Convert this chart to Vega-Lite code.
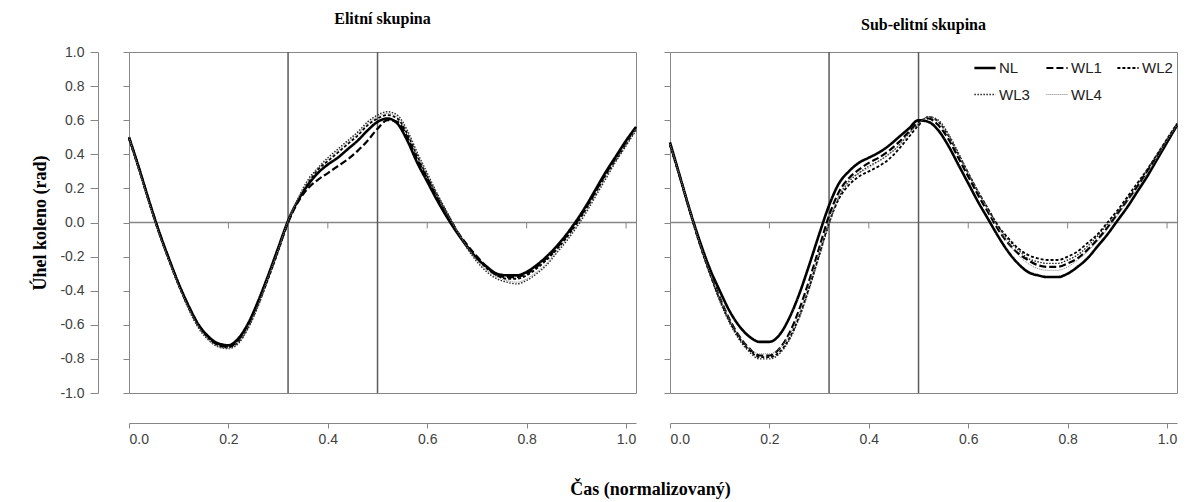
{
"$schema": "https://vega.github.io/schema/vega-lite/v6.json",
"padding": {"left": 31, "top": 10, "right": 6, "bottom": 5},
"background": "white",
"bounds": "flush",
"spacing": 34,
"datasets": {"curves": [
{"p":"E","s":"NL","x":0,"y":0.50},{"p":"E","s":"NL","x":0.02,"y":0.32},{"p":"E","s":"NL","x":0.04,"y":0.13},{"p":"E","s":"NL","x":0.06,"y":-0.05},{"p":"E","s":"NL","x":0.08,"y":-0.21},{"p":"E","s":"NL","x":0.1,"y":-0.36},{"p":"E","s":"NL","x":0.12,"y":-0.49},{"p":"E","s":"NL","x":0.14,"y":-0.60},{"p":"E","s":"NL","x":0.16,"y":-0.67},{"p":"E","s":"NL","x":0.18,"y":-0.71},
{"p":"E","s":"NL","x":0.2,"y":-0.72},{"p":"E","s":"NL","x":0.22,"y":-0.68},{"p":"E","s":"NL","x":0.24,"y":-0.59},{"p":"E","s":"NL","x":0.26,"y":-0.46},{"p":"E","s":"NL","x":0.28,"y":-0.31},{"p":"E","s":"NL","x":0.3,"y":-0.15},{"p":"E","s":"NL","x":0.32,"y":0.01},{"p":"E","s":"NL","x":0.34,"y":0.13},{"p":"E","s":"NL","x":0.36,"y":0.22},{"p":"E","s":"NL","x":0.38,"y":0.29},
{"p":"E","s":"NL","x":0.4,"y":0.34},{"p":"E","s":"NL","x":0.42,"y":0.38},{"p":"E","s":"NL","x":0.44,"y":0.43},{"p":"E","s":"NL","x":0.46,"y":0.48},{"p":"E","s":"NL","x":0.48,"y":0.54},{"p":"E","s":"NL","x":0.5,"y":0.59},{"p":"E","s":"NL","x":0.52,"y":0.61},{"p":"E","s":"NL","x":0.54,"y":0.58},{"p":"E","s":"NL","x":0.56,"y":0.48},{"p":"E","s":"NL","x":0.58,"y":0.35},
{"p":"E","s":"NL","x":0.6,"y":0.24},{"p":"E","s":"NL","x":0.62,"y":0.13},{"p":"E","s":"NL","x":0.64,"y":0.03},{"p":"E","s":"NL","x":0.66,"y":-0.06},{"p":"E","s":"NL","x":0.68,"y":-0.14},{"p":"E","s":"NL","x":0.7,"y":-0.21},{"p":"E","s":"NL","x":0.72,"y":-0.26},{"p":"E","s":"NL","x":0.74,"y":-0.30},{"p":"E","s":"NL","x":0.76,"y":-0.31},{"p":"E","s":"NL","x":0.78,"y":-0.31},
{"p":"E","s":"NL","x":0.8,"y":-0.29},{"p":"E","s":"NL","x":0.82,"y":-0.25},{"p":"E","s":"NL","x":0.84,"y":-0.20},{"p":"E","s":"NL","x":0.86,"y":-0.14},{"p":"E","s":"NL","x":0.88,"y":-0.07},{"p":"E","s":"NL","x":0.9,"y":0.01},{"p":"E","s":"NL","x":0.92,"y":0.10},{"p":"E","s":"NL","x":0.94,"y":0.20},{"p":"E","s":"NL","x":0.96,"y":0.30},{"p":"E","s":"NL","x":0.98,"y":0.39},
{"p":"E","s":"NL","x":1,"y":0.48},{"p":"E","s":"NL","x":1.02,"y":0.56},

{"p":"E","s":"WL1","x":0,"y":0.50},{"p":"E","s":"WL1","x":0.02,"y":0.32},{"p":"E","s":"WL1","x":0.04,"y":0.13},{"p":"E","s":"WL1","x":0.06,"y":-0.05},{"p":"E","s":"WL1","x":0.08,"y":-0.21},{"p":"E","s":"WL1","x":0.1,"y":-0.36},{"p":"E","s":"WL1","x":0.12,"y":-0.49},{"p":"E","s":"WL1","x":0.14,"y":-0.60},{"p":"E","s":"WL1","x":0.16,"y":-0.67},{"p":"E","s":"WL1","x":0.18,"y":-0.72},
{"p":"E","s":"WL1","x":0.2,"y":-0.73},{"p":"E","s":"WL1","x":0.22,"y":-0.69},{"p":"E","s":"WL1","x":0.24,"y":-0.60},{"p":"E","s":"WL1","x":0.26,"y":-0.47},{"p":"E","s":"WL1","x":0.28,"y":-0.32},{"p":"E","s":"WL1","x":0.3,"y":-0.16},{"p":"E","s":"WL1","x":0.32,"y":0.00},{"p":"E","s":"WL1","x":0.34,"y":0.12},{"p":"E","s":"WL1","x":0.36,"y":0.20},{"p":"E","s":"WL1","x":0.38,"y":0.25},
{"p":"E","s":"WL1","x":0.4,"y":0.29},{"p":"E","s":"WL1","x":0.42,"y":0.33},{"p":"E","s":"WL1","x":0.44,"y":0.37},{"p":"E","s":"WL1","x":0.46,"y":0.42},{"p":"E","s":"WL1","x":0.48,"y":0.48},{"p":"E","s":"WL1","x":0.5,"y":0.55},{"p":"E","s":"WL1","x":0.52,"y":0.60},{"p":"E","s":"WL1","x":0.54,"y":0.59},{"p":"E","s":"WL1","x":0.56,"y":0.50},{"p":"E","s":"WL1","x":0.58,"y":0.37},
{"p":"E","s":"WL1","x":0.6,"y":0.26},{"p":"E","s":"WL1","x":0.62,"y":0.15},{"p":"E","s":"WL1","x":0.64,"y":0.05},{"p":"E","s":"WL1","x":0.66,"y":-0.05},{"p":"E","s":"WL1","x":0.68,"y":-0.13},{"p":"E","s":"WL1","x":0.7,"y":-0.20},{"p":"E","s":"WL1","x":0.72,"y":-0.26},{"p":"E","s":"WL1","x":0.74,"y":-0.31},{"p":"E","s":"WL1","x":0.76,"y":-0.32},{"p":"E","s":"WL1","x":0.78,"y":-0.32},
{"p":"E","s":"WL1","x":0.8,"y":-0.30},{"p":"E","s":"WL1","x":0.82,"y":-0.26},{"p":"E","s":"WL1","x":0.84,"y":-0.21},{"p":"E","s":"WL1","x":0.86,"y":-0.15},{"p":"E","s":"WL1","x":0.88,"y":-0.08},{"p":"E","s":"WL1","x":0.9,"y":0.00},{"p":"E","s":"WL1","x":0.92,"y":0.09},{"p":"E","s":"WL1","x":0.94,"y":0.19},{"p":"E","s":"WL1","x":0.96,"y":0.29},{"p":"E","s":"WL1","x":0.98,"y":0.38},
{"p":"E","s":"WL1","x":1,"y":0.47},{"p":"E","s":"WL1","x":1.02,"y":0.56},

{"p":"E","s":"WL2","x":0,"y":0.49},{"p":"E","s":"WL2","x":0.02,"y":0.31},{"p":"E","s":"WL2","x":0.04,"y":0.12},{"p":"E","s":"WL2","x":0.06,"y":-0.06},{"p":"E","s":"WL2","x":0.08,"y":-0.22},{"p":"E","s":"WL2","x":0.1,"y":-0.37},{"p":"E","s":"WL2","x":0.12,"y":-0.50},{"p":"E","s":"WL2","x":0.14,"y":-0.61},{"p":"E","s":"WL2","x":0.16,"y":-0.68},{"p":"E","s":"WL2","x":0.18,"y":-0.72},
{"p":"E","s":"WL2","x":0.2,"y":-0.73},{"p":"E","s":"WL2","x":0.22,"y":-0.70},{"p":"E","s":"WL2","x":0.24,"y":-0.61},{"p":"E","s":"WL2","x":0.26,"y":-0.48},{"p":"E","s":"WL2","x":0.28,"y":-0.33},{"p":"E","s":"WL2","x":0.3,"y":-0.17},{"p":"E","s":"WL2","x":0.32,"y":0.00},{"p":"E","s":"WL2","x":0.34,"y":0.13},{"p":"E","s":"WL2","x":0.36,"y":0.23},{"p":"E","s":"WL2","x":0.38,"y":0.31},
{"p":"E","s":"WL2","x":0.4,"y":0.36},{"p":"E","s":"WL2","x":0.42,"y":0.41},{"p":"E","s":"WL2","x":0.44,"y":0.46},{"p":"E","s":"WL2","x":0.46,"y":0.51},{"p":"E","s":"WL2","x":0.48,"y":0.57},{"p":"E","s":"WL2","x":0.5,"y":0.61},{"p":"E","s":"WL2","x":0.52,"y":0.63},{"p":"E","s":"WL2","x":0.54,"y":0.61},{"p":"E","s":"WL2","x":0.56,"y":0.52},{"p":"E","s":"WL2","x":0.58,"y":0.39},
{"p":"E","s":"WL2","x":0.6,"y":0.27},{"p":"E","s":"WL2","x":0.62,"y":0.16},{"p":"E","s":"WL2","x":0.64,"y":0.05},{"p":"E","s":"WL2","x":0.66,"y":-0.05},{"p":"E","s":"WL2","x":0.68,"y":-0.14},{"p":"E","s":"WL2","x":0.7,"y":-0.21},{"p":"E","s":"WL2","x":0.72,"y":-0.27},{"p":"E","s":"WL2","x":0.74,"y":-0.31},{"p":"E","s":"WL2","x":0.76,"y":-0.33},{"p":"E","s":"WL2","x":0.78,"y":-0.33},
{"p":"E","s":"WL2","x":0.8,"y":-0.31},{"p":"E","s":"WL2","x":0.82,"y":-0.27},{"p":"E","s":"WL2","x":0.84,"y":-0.22},{"p":"E","s":"WL2","x":0.86,"y":-0.16},{"p":"E","s":"WL2","x":0.88,"y":-0.09},{"p":"E","s":"WL2","x":0.9,"y":-0.01},{"p":"E","s":"WL2","x":0.92,"y":0.08},{"p":"E","s":"WL2","x":0.94,"y":0.18},{"p":"E","s":"WL2","x":0.96,"y":0.28},{"p":"E","s":"WL2","x":0.98,"y":0.37},
{"p":"E","s":"WL2","x":1,"y":0.46},{"p":"E","s":"WL2","x":1.02,"y":0.55},

{"p":"E","s":"WL3","x":0,"y":0.49},{"p":"E","s":"WL3","x":0.02,"y":0.31},{"p":"E","s":"WL3","x":0.04,"y":0.12},{"p":"E","s":"WL3","x":0.06,"y":-0.06},{"p":"E","s":"WL3","x":0.08,"y":-0.22},{"p":"E","s":"WL3","x":0.1,"y":-0.37},{"p":"E","s":"WL3","x":0.12,"y":-0.51},{"p":"E","s":"WL3","x":0.14,"y":-0.62},{"p":"E","s":"WL3","x":0.16,"y":-0.69},{"p":"E","s":"WL3","x":0.18,"y":-0.73},
{"p":"E","s":"WL3","x":0.2,"y":-0.74},{"p":"E","s":"WL3","x":0.22,"y":-0.71},{"p":"E","s":"WL3","x":0.24,"y":-0.62},{"p":"E","s":"WL3","x":0.26,"y":-0.49},{"p":"E","s":"WL3","x":0.28,"y":-0.33},{"p":"E","s":"WL3","x":0.3,"y":-0.17},{"p":"E","s":"WL3","x":0.32,"y":0.00},{"p":"E","s":"WL3","x":0.34,"y":0.14},{"p":"E","s":"WL3","x":0.36,"y":0.25},{"p":"E","s":"WL3","x":0.38,"y":0.32},
{"p":"E","s":"WL3","x":0.4,"y":0.38},{"p":"E","s":"WL3","x":0.42,"y":0.43},{"p":"E","s":"WL3","x":0.44,"y":0.48},{"p":"E","s":"WL3","x":0.46,"y":0.53},{"p":"E","s":"WL3","x":0.48,"y":0.59},{"p":"E","s":"WL3","x":0.5,"y":0.63},{"p":"E","s":"WL3","x":0.52,"y":0.65},{"p":"E","s":"WL3","x":0.54,"y":0.63},{"p":"E","s":"WL3","x":0.56,"y":0.54},{"p":"E","s":"WL3","x":0.58,"y":0.41},
{"p":"E","s":"WL3","x":0.6,"y":0.29},{"p":"E","s":"WL3","x":0.62,"y":0.17},{"p":"E","s":"WL3","x":0.64,"y":0.06},{"p":"E","s":"WL3","x":0.66,"y":-0.05},{"p":"E","s":"WL3","x":0.68,"y":-0.15},{"p":"E","s":"WL3","x":0.7,"y":-0.23},{"p":"E","s":"WL3","x":0.72,"y":-0.29},{"p":"E","s":"WL3","x":0.74,"y":-0.33},{"p":"E","s":"WL3","x":0.76,"y":-0.35},{"p":"E","s":"WL3","x":0.78,"y":-0.36},
{"p":"E","s":"WL3","x":0.8,"y":-0.34},{"p":"E","s":"WL3","x":0.82,"y":-0.30},{"p":"E","s":"WL3","x":0.84,"y":-0.25},{"p":"E","s":"WL3","x":0.86,"y":-0.18},{"p":"E","s":"WL3","x":0.88,"y":-0.11},{"p":"E","s":"WL3","x":0.9,"y":-0.03},{"p":"E","s":"WL3","x":0.92,"y":0.06},{"p":"E","s":"WL3","x":0.94,"y":0.16},{"p":"E","s":"WL3","x":0.96,"y":0.26},{"p":"E","s":"WL3","x":0.98,"y":0.36},
{"p":"E","s":"WL3","x":1,"y":0.45},{"p":"E","s":"WL3","x":1.02,"y":0.54},

{"p":"E","s":"WL4","x":0,"y":0.50},{"p":"E","s":"WL4","x":0.02,"y":0.31},{"p":"E","s":"WL4","x":0.04,"y":0.12},{"p":"E","s":"WL4","x":0.06,"y":-0.06},{"p":"E","s":"WL4","x":0.08,"y":-0.22},{"p":"E","s":"WL4","x":0.1,"y":-0.37},{"p":"E","s":"WL4","x":0.12,"y":-0.50},{"p":"E","s":"WL4","x":0.14,"y":-0.61},{"p":"E","s":"WL4","x":0.16,"y":-0.69},{"p":"E","s":"WL4","x":0.18,"y":-0.73},
{"p":"E","s":"WL4","x":0.2,"y":-0.74},{"p":"E","s":"WL4","x":0.22,"y":-0.70},{"p":"E","s":"WL4","x":0.24,"y":-0.61},{"p":"E","s":"WL4","x":0.26,"y":-0.48},{"p":"E","s":"WL4","x":0.28,"y":-0.32},{"p":"E","s":"WL4","x":0.3,"y":-0.16},{"p":"E","s":"WL4","x":0.32,"y":0.01},{"p":"E","s":"WL4","x":0.34,"y":0.14},{"p":"E","s":"WL4","x":0.36,"y":0.24},{"p":"E","s":"WL4","x":0.38,"y":0.32},
{"p":"E","s":"WL4","x":0.4,"y":0.37},{"p":"E","s":"WL4","x":0.42,"y":0.42},{"p":"E","s":"WL4","x":0.44,"y":0.47},{"p":"E","s":"WL4","x":0.46,"y":0.52},{"p":"E","s":"WL4","x":0.48,"y":0.58},{"p":"E","s":"WL4","x":0.5,"y":0.62},{"p":"E","s":"WL4","x":0.52,"y":0.64},{"p":"E","s":"WL4","x":0.54,"y":0.62},{"p":"E","s":"WL4","x":0.56,"y":0.53},{"p":"E","s":"WL4","x":0.58,"y":0.40},
{"p":"E","s":"WL4","x":0.6,"y":0.28},{"p":"E","s":"WL4","x":0.62,"y":0.16},{"p":"E","s":"WL4","x":0.64,"y":0.05},{"p":"E","s":"WL4","x":0.66,"y":-0.05},{"p":"E","s":"WL4","x":0.68,"y":-0.14},{"p":"E","s":"WL4","x":0.7,"y":-0.22},{"p":"E","s":"WL4","x":0.72,"y":-0.28},{"p":"E","s":"WL4","x":0.74,"y":-0.32},{"p":"E","s":"WL4","x":0.76,"y":-0.34},{"p":"E","s":"WL4","x":0.78,"y":-0.35},
{"p":"E","s":"WL4","x":0.8,"y":-0.33},{"p":"E","s":"WL4","x":0.82,"y":-0.29},{"p":"E","s":"WL4","x":0.84,"y":-0.24},{"p":"E","s":"WL4","x":0.86,"y":-0.17},{"p":"E","s":"WL4","x":0.88,"y":-0.10},{"p":"E","s":"WL4","x":0.9,"y":-0.02},{"p":"E","s":"WL4","x":0.92,"y":0.07},{"p":"E","s":"WL4","x":0.94,"y":0.17},{"p":"E","s":"WL4","x":0.96,"y":0.27},{"p":"E","s":"WL4","x":0.98,"y":0.37},
{"p":"E","s":"WL4","x":1,"y":0.46},{"p":"E","s":"WL4","x":1.02,"y":0.55},

{"p":"S","s":"NL","x":0,"y":0.47},{"p":"S","s":"NL","x":0.02,"y":0.27},{"p":"S","s":"NL","x":0.04,"y":0.07},{"p":"S","s":"NL","x":0.06,"y":-0.11},{"p":"S","s":"NL","x":0.08,"y":-0.27},{"p":"S","s":"NL","x":0.1,"y":-0.40},{"p":"S","s":"NL","x":0.12,"y":-0.52},{"p":"S","s":"NL","x":0.14,"y":-0.61},{"p":"S","s":"NL","x":0.16,"y":-0.67},{"p":"S","s":"NL","x":0.18,"y":-0.70},
{"p":"S","s":"NL","x":0.2,"y":-0.70},{"p":"S","s":"NL","x":0.22,"y":-0.66},{"p":"S","s":"NL","x":0.24,"y":-0.56},{"p":"S","s":"NL","x":0.26,"y":-0.42},{"p":"S","s":"NL","x":0.28,"y":-0.25},{"p":"S","s":"NL","x":0.3,"y":-0.07},{"p":"S","s":"NL","x":0.32,"y":0.10},{"p":"S","s":"NL","x":0.34,"y":0.23},{"p":"S","s":"NL","x":0.36,"y":0.30},{"p":"S","s":"NL","x":0.38,"y":0.35},
{"p":"S","s":"NL","x":0.4,"y":0.38},{"p":"S","s":"NL","x":0.42,"y":0.41},{"p":"S","s":"NL","x":0.44,"y":0.45},{"p":"S","s":"NL","x":0.46,"y":0.50},{"p":"S","s":"NL","x":0.48,"y":0.55},{"p":"S","s":"NL","x":0.5,"y":0.60},{"p":"S","s":"NL","x":0.52,"y":0.59},{"p":"S","s":"NL","x":0.54,"y":0.54},{"p":"S","s":"NL","x":0.56,"y":0.45},{"p":"S","s":"NL","x":0.58,"y":0.34},
{"p":"S","s":"NL","x":0.6,"y":0.23},{"p":"S","s":"NL","x":0.62,"y":0.12},{"p":"S","s":"NL","x":0.64,"y":0.02},{"p":"S","s":"NL","x":0.66,"y":-0.08},{"p":"S","s":"NL","x":0.68,"y":-0.17},{"p":"S","s":"NL","x":0.7,"y":-0.24},{"p":"S","s":"NL","x":0.72,"y":-0.29},{"p":"S","s":"NL","x":0.74,"y":-0.31},{"p":"S","s":"NL","x":0.76,"y":-0.32},{"p":"S","s":"NL","x":0.78,"y":-0.32},
{"p":"S","s":"NL","x":0.8,"y":-0.30},{"p":"S","s":"NL","x":0.82,"y":-0.26},{"p":"S","s":"NL","x":0.84,"y":-0.21},{"p":"S","s":"NL","x":0.86,"y":-0.14},{"p":"S","s":"NL","x":0.88,"y":-0.07},{"p":"S","s":"NL","x":0.9,"y":0.01},{"p":"S","s":"NL","x":0.92,"y":0.09},{"p":"S","s":"NL","x":0.94,"y":0.18},{"p":"S","s":"NL","x":0.96,"y":0.27},{"p":"S","s":"NL","x":0.98,"y":0.37},
{"p":"S","s":"NL","x":1,"y":0.47},{"p":"S","s":"NL","x":1.02,"y":0.57},

{"p":"S","s":"WL1","x":0,"y":0.46},{"p":"S","s":"WL1","x":0.02,"y":0.27},{"p":"S","s":"WL1","x":0.04,"y":0.07},{"p":"S","s":"WL1","x":0.06,"y":-0.12},{"p":"S","s":"WL1","x":0.08,"y":-0.29},{"p":"S","s":"WL1","x":0.1,"y":-0.44},{"p":"S","s":"WL1","x":0.12,"y":-0.57},{"p":"S","s":"WL1","x":0.14,"y":-0.67},{"p":"S","s":"WL1","x":0.16,"y":-0.74},{"p":"S","s":"WL1","x":0.18,"y":-0.78},
{"p":"S","s":"WL1","x":0.2,"y":-0.78},{"p":"S","s":"WL1","x":0.22,"y":-0.74},{"p":"S","s":"WL1","x":0.24,"y":-0.65},{"p":"S","s":"WL1","x":0.26,"y":-0.51},{"p":"S","s":"WL1","x":0.28,"y":-0.34},{"p":"S","s":"WL1","x":0.3,"y":-0.15},{"p":"S","s":"WL1","x":0.32,"y":0.04},{"p":"S","s":"WL1","x":0.34,"y":0.18},{"p":"S","s":"WL1","x":0.36,"y":0.26},{"p":"S","s":"WL1","x":0.38,"y":0.31},
{"p":"S","s":"WL1","x":0.4,"y":0.35},{"p":"S","s":"WL1","x":0.42,"y":0.38},{"p":"S","s":"WL1","x":0.44,"y":0.42},{"p":"S","s":"WL1","x":0.46,"y":0.47},{"p":"S","s":"WL1","x":0.48,"y":0.53},{"p":"S","s":"WL1","x":0.5,"y":0.59},{"p":"S","s":"WL1","x":0.52,"y":0.61},{"p":"S","s":"WL1","x":0.54,"y":0.57},{"p":"S","s":"WL1","x":0.56,"y":0.49},{"p":"S","s":"WL1","x":0.58,"y":0.38},
{"p":"S","s":"WL1","x":0.6,"y":0.27},{"p":"S","s":"WL1","x":0.62,"y":0.16},{"p":"S","s":"WL1","x":0.64,"y":0.06},{"p":"S","s":"WL1","x":0.66,"y":-0.04},{"p":"S","s":"WL1","x":0.68,"y":-0.12},{"p":"S","s":"WL1","x":0.7,"y":-0.18},{"p":"S","s":"WL1","x":0.72,"y":-0.22},{"p":"S","s":"WL1","x":0.74,"y":-0.25},{"p":"S","s":"WL1","x":0.76,"y":-0.26},{"p":"S","s":"WL1","x":0.78,"y":-0.26},
{"p":"S","s":"WL1","x":0.8,"y":-0.24},{"p":"S","s":"WL1","x":0.82,"y":-0.21},{"p":"S","s":"WL1","x":0.84,"y":-0.16},{"p":"S","s":"WL1","x":0.86,"y":-0.10},{"p":"S","s":"WL1","x":0.88,"y":-0.03},{"p":"S","s":"WL1","x":0.9,"y":0.05},{"p":"S","s":"WL1","x":0.92,"y":0.13},{"p":"S","s":"WL1","x":0.94,"y":0.21},{"p":"S","s":"WL1","x":0.96,"y":0.30},{"p":"S","s":"WL1","x":0.98,"y":0.39},
{"p":"S","s":"WL1","x":1,"y":0.48},{"p":"S","s":"WL1","x":1.02,"y":0.57},

{"p":"S","s":"WL2","x":0,"y":0.45},{"p":"S","s":"WL2","x":0.02,"y":0.26},{"p":"S","s":"WL2","x":0.04,"y":0.06},{"p":"S","s":"WL2","x":0.06,"y":-0.13},{"p":"S","s":"WL2","x":0.08,"y":-0.30},{"p":"S","s":"WL2","x":0.1,"y":-0.45},{"p":"S","s":"WL2","x":0.12,"y":-0.58},{"p":"S","s":"WL2","x":0.14,"y":-0.68},{"p":"S","s":"WL2","x":0.16,"y":-0.75},{"p":"S","s":"WL2","x":0.18,"y":-0.79},
{"p":"S","s":"WL2","x":0.2,"y":-0.79},{"p":"S","s":"WL2","x":0.22,"y":-0.76},{"p":"S","s":"WL2","x":0.24,"y":-0.68},{"p":"S","s":"WL2","x":0.26,"y":-0.55},{"p":"S","s":"WL2","x":0.28,"y":-0.38},{"p":"S","s":"WL2","x":0.3,"y":-0.19},{"p":"S","s":"WL2","x":0.32,"y":0.00},{"p":"S","s":"WL2","x":0.34,"y":0.14},{"p":"S","s":"WL2","x":0.36,"y":0.22},{"p":"S","s":"WL2","x":0.38,"y":0.27},
{"p":"S","s":"WL2","x":0.4,"y":0.30},{"p":"S","s":"WL2","x":0.42,"y":0.33},{"p":"S","s":"WL2","x":0.44,"y":0.37},{"p":"S","s":"WL2","x":0.46,"y":0.43},{"p":"S","s":"WL2","x":0.48,"y":0.50},{"p":"S","s":"WL2","x":0.5,"y":0.57},{"p":"S","s":"WL2","x":0.52,"y":0.62},{"p":"S","s":"WL2","x":0.54,"y":0.59},{"p":"S","s":"WL2","x":0.56,"y":0.51},{"p":"S","s":"WL2","x":0.58,"y":0.40},
{"p":"S","s":"WL2","x":0.6,"y":0.29},{"p":"S","s":"WL2","x":0.62,"y":0.18},{"p":"S","s":"WL2","x":0.64,"y":0.08},{"p":"S","s":"WL2","x":0.66,"y":-0.02},{"p":"S","s":"WL2","x":0.68,"y":-0.09},{"p":"S","s":"WL2","x":0.7,"y":-0.15},{"p":"S","s":"WL2","x":0.72,"y":-0.19},{"p":"S","s":"WL2","x":0.74,"y":-0.21},{"p":"S","s":"WL2","x":0.76,"y":-0.22},{"p":"S","s":"WL2","x":0.78,"y":-0.22},
{"p":"S","s":"WL2","x":0.8,"y":-0.20},{"p":"S","s":"WL2","x":0.82,"y":-0.17},{"p":"S","s":"WL2","x":0.84,"y":-0.12},{"p":"S","s":"WL2","x":0.86,"y":-0.07},{"p":"S","s":"WL2","x":0.88,"y":0.00},{"p":"S","s":"WL2","x":0.9,"y":0.07},{"p":"S","s":"WL2","x":0.92,"y":0.15},{"p":"S","s":"WL2","x":0.94,"y":0.23},{"p":"S","s":"WL2","x":0.96,"y":0.31},{"p":"S","s":"WL2","x":0.98,"y":0.40},
{"p":"S","s":"WL2","x":1,"y":0.49},{"p":"S","s":"WL2","x":1.02,"y":0.58},

{"p":"S","s":"WL3","x":0,"y":0.46},{"p":"S","s":"WL3","x":0.02,"y":0.26},{"p":"S","s":"WL3","x":0.04,"y":0.06},{"p":"S","s":"WL3","x":0.06,"y":-0.13},{"p":"S","s":"WL3","x":0.08,"y":-0.30},{"p":"S","s":"WL3","x":0.1,"y":-0.46},{"p":"S","s":"WL3","x":0.12,"y":-0.59},{"p":"S","s":"WL3","x":0.14,"y":-0.69},{"p":"S","s":"WL3","x":0.16,"y":-0.76},{"p":"S","s":"WL3","x":0.18,"y":-0.80},
{"p":"S","s":"WL3","x":0.2,"y":-0.80},{"p":"S","s":"WL3","x":0.22,"y":-0.77},{"p":"S","s":"WL3","x":0.24,"y":-0.69},{"p":"S","s":"WL3","x":0.26,"y":-0.56},{"p":"S","s":"WL3","x":0.28,"y":-0.39},{"p":"S","s":"WL3","x":0.3,"y":-0.20},{"p":"S","s":"WL3","x":0.32,"y":-0.01},{"p":"S","s":"WL3","x":0.34,"y":0.15},{"p":"S","s":"WL3","x":0.36,"y":0.24},{"p":"S","s":"WL3","x":0.38,"y":0.29},
{"p":"S","s":"WL3","x":0.4,"y":0.33},{"p":"S","s":"WL3","x":0.42,"y":0.36},{"p":"S","s":"WL3","x":0.44,"y":0.40},{"p":"S","s":"WL3","x":0.46,"y":0.45},{"p":"S","s":"WL3","x":0.48,"y":0.52},{"p":"S","s":"WL3","x":0.5,"y":0.58},{"p":"S","s":"WL3","x":0.52,"y":0.62},{"p":"S","s":"WL3","x":0.54,"y":0.60},{"p":"S","s":"WL3","x":0.56,"y":0.52},{"p":"S","s":"WL3","x":0.58,"y":0.41},
{"p":"S","s":"WL3","x":0.6,"y":0.29},{"p":"S","s":"WL3","x":0.62,"y":0.18},{"p":"S","s":"WL3","x":0.64,"y":0.08},{"p":"S","s":"WL3","x":0.66,"y":-0.02},{"p":"S","s":"WL3","x":0.68,"y":-0.10},{"p":"S","s":"WL3","x":0.7,"y":-0.16},{"p":"S","s":"WL3","x":0.72,"y":-0.21},{"p":"S","s":"WL3","x":0.74,"y":-0.23},{"p":"S","s":"WL3","x":0.76,"y":-0.24},{"p":"S","s":"WL3","x":0.78,"y":-0.24},
{"p":"S","s":"WL3","x":0.8,"y":-0.22},{"p":"S","s":"WL3","x":0.82,"y":-0.19},{"p":"S","s":"WL3","x":0.84,"y":-0.14},{"p":"S","s":"WL3","x":0.86,"y":-0.08},{"p":"S","s":"WL3","x":0.88,"y":-0.01},{"p":"S","s":"WL3","x":0.9,"y":0.06},{"p":"S","s":"WL3","x":0.92,"y":0.14},{"p":"S","s":"WL3","x":0.94,"y":0.22},{"p":"S","s":"WL3","x":0.96,"y":0.31},{"p":"S","s":"WL3","x":0.98,"y":0.40},
{"p":"S","s":"WL3","x":1,"y":0.49},{"p":"S","s":"WL3","x":1.02,"y":0.58},

{"p":"S","s":"WL4","x":0,"y":0.46},{"p":"S","s":"WL4","x":0.02,"y":0.27},{"p":"S","s":"WL4","x":0.04,"y":0.07},{"p":"S","s":"WL4","x":0.06,"y":-0.12},{"p":"S","s":"WL4","x":0.08,"y":-0.29},{"p":"S","s":"WL4","x":0.1,"y":-0.44},{"p":"S","s":"WL4","x":0.12,"y":-0.57},{"p":"S","s":"WL4","x":0.14,"y":-0.67},{"p":"S","s":"WL4","x":0.16,"y":-0.74},{"p":"S","s":"WL4","x":0.18,"y":-0.77},
{"p":"S","s":"WL4","x":0.2,"y":-0.77},{"p":"S","s":"WL4","x":0.22,"y":-0.74},{"p":"S","s":"WL4","x":0.24,"y":-0.66},{"p":"S","s":"WL4","x":0.26,"y":-0.53},{"p":"S","s":"WL4","x":0.28,"y":-0.36},{"p":"S","s":"WL4","x":0.3,"y":-0.17},{"p":"S","s":"WL4","x":0.32,"y":0.01},{"p":"S","s":"WL4","x":0.34,"y":0.16},{"p":"S","s":"WL4","x":0.36,"y":0.25},{"p":"S","s":"WL4","x":0.38,"y":0.29},
{"p":"S","s":"WL4","x":0.4,"y":0.32},{"p":"S","s":"WL4","x":0.42,"y":0.36},{"p":"S","s":"WL4","x":0.44,"y":0.40},{"p":"S","s":"WL4","x":0.46,"y":0.45},{"p":"S","s":"WL4","x":0.48,"y":0.52},{"p":"S","s":"WL4","x":0.5,"y":0.58},{"p":"S","s":"WL4","x":0.52,"y":0.62},{"p":"S","s":"WL4","x":0.54,"y":0.59},{"p":"S","s":"WL4","x":0.56,"y":0.51},{"p":"S","s":"WL4","x":0.58,"y":0.40},
{"p":"S","s":"WL4","x":0.6,"y":0.29},{"p":"S","s":"WL4","x":0.62,"y":0.18},{"p":"S","s":"WL4","x":0.64,"y":0.07},{"p":"S","s":"WL4","x":0.66,"y":-0.03},{"p":"S","s":"WL4","x":0.68,"y":-0.12},{"p":"S","s":"WL4","x":0.7,"y":-0.19},{"p":"S","s":"WL4","x":0.72,"y":-0.24},{"p":"S","s":"WL4","x":0.74,"y":-0.27},{"p":"S","s":"WL4","x":0.76,"y":-0.28},{"p":"S","s":"WL4","x":0.78,"y":-0.28},
{"p":"S","s":"WL4","x":0.8,"y":-0.26},{"p":"S","s":"WL4","x":0.82,"y":-0.22},{"p":"S","s":"WL4","x":0.84,"y":-0.17},{"p":"S","s":"WL4","x":0.86,"y":-0.11},{"p":"S","s":"WL4","x":0.88,"y":-0.04},{"p":"S","s":"WL4","x":0.9,"y":0.04},{"p":"S","s":"WL4","x":0.92,"y":0.12},{"p":"S","s":"WL4","x":0.94,"y":0.20},{"p":"S","s":"WL4","x":0.96,"y":0.29},{"p":"S","s":"WL4","x":0.98,"y":0.38},
{"p":"S","s":"WL4","x":1,"y":0.48},{"p":"S","s":"WL4","x":1.02,"y":0.57}
]},
"resolve": {"scale": {"color": "independent", "strokeDash": "independent", "strokeWidth": "independent"}, "legend": {"color": "independent", "strokeDash": "independent", "strokeWidth": "independent"}},
"hconcat": [
{
 "width": 507, "height": 341,
 "title": {"text": "Elitní skupina", "font": "Liberation Serif", "fontSize": 16, "fontWeight": "bold", "color": "#000", "offset": 18, "anchor": "middle"},
 "resolve": {"axis": {"x": "independent", "y": "independent"}},
 "layer": [
  {"data": {"values": [{"y": 0}]},
   "mark": {"type": "rule", "color": "#868686", "strokeWidth": 1.5},
   "encoding": {"y": {"field": "y", "type": "quantitative", "scale": {"domain": [-1, 1], "nice": false},
     "axis": {"orient": "left", "offset": 0, "labels": false, "domain": false, "ticks": true, "tickSize": 6, "title": null, "values": [-1,-0.8,-0.6,-0.4,-0.2,0,0.2,0.4,0.6,0.8,1]}}}},
  {"data": {"values": [{"x": 0.2},{"x": 0.4},{"x": 0.6},{"x": 0.8},{"x": 1.0}]},
   "mark": {"type": "rule", "color": "#868686", "strokeWidth": 1},
   "encoding": {"x": {"field": "x", "type": "quantitative", "axis": null}, "y": {"datum": 0, "axis": null}, "y2": {"datum": -0.035}}},
  {"data": {"values": [{"x": 0.32},{"x": 0.5}]},
   "mark": {"type": "rule", "color": "#5a5a5a", "strokeWidth": 1.5},
   "encoding": {"x": {"field": "x", "type": "quantitative", "axis": null}}},
  {"data": {"name": "curves"},
   "transform": [{"filter": "datum.p === 'E'"}],
   "mark": {"type": "line", "interpolate": "monotone"},
   "encoding": {
    "x": {"field": "x", "type": "quantitative", "scale": {"domain": [0, 1.02], "nice": false, "zero": false},
      "axis": {"orient": "bottom", "offset": 30, "values": [0,0.2,0.4,0.6,0.8,1], "format": ".1f", "tickSize": 5, "labelPadding": 4, "title": "Čas (normalizovaný)", "titleX": 521, "titleY": 66, "titleBaseline": "middle", "titleAlign": "center"}},
    "y": {"field": "y", "type": "quantitative", "scale": {"domain": [-1, 1], "nice": false},
      "axis": {"orient": "left", "offset": 31, "values": [-1,-0.8,-0.6,-0.4,-0.2,0,0.2,0.4,0.6,0.8,1], "labelExpr": "replace(format(datum.value, '.1f'), '\u2212', '-')", "tickSize": 8, "labelPadding": 6, "title": "Úhel koleno (rad)", "titlePadding": 10}},
    "color": {"field": "s", "type": "ordinal", "scale": {"domain": ["NL","WL1","WL2","WL3","WL4"], "range": ["#000000","#000000","#000000","#262626","#7f7f7f"]}, "legend": null},
    "strokeDash": {"field": "s", "type": "ordinal", "scale": {"domain": ["NL","WL1","WL2","WL3","WL4"], "range": [[1,0],[7,3],[3,2],[1.5,1.5],[1,1]]}, "legend": null},
    "strokeWidth": {"field": "s", "type": "ordinal", "scale": {"domain": ["NL","WL1","WL2","WL3","WL4"], "range": [2.6, 1]}, "legend": null}
   }}
 ]
},
{
 "width": 507, "height": 341,
 "title": {"text": "Sub-elitní skupina", "font": "Liberation Serif", "fontSize": 16, "fontWeight": "bold", "color": "#000", "offset": 18, "anchor": "middle"},
 "resolve": {"axis": {"x": "independent", "y": "independent"}},
 "layer": [
  {"data": {"values": [{"y": 0}]},
   "mark": {"type": "rule", "color": "#868686", "strokeWidth": 1.5},
   "encoding": {"y": {"field": "y", "type": "quantitative", "scale": {"domain": [-1, 1], "nice": false}, "axis": null}}},
  {"data": {"values": [{"x": 0.2},{"x": 0.4},{"x": 0.6},{"x": 0.8},{"x": 1.0}]},
   "mark": {"type": "rule", "color": "#868686", "strokeWidth": 1},
   "encoding": {"x": {"field": "x", "type": "quantitative", "axis": null}, "y": {"datum": 0, "axis": null}, "y2": {"datum": -0.035}}},
  {"data": {"values": [{"x": 0.32},{"x": 0.5}]},
   "mark": {"type": "rule", "color": "#5a5a5a", "strokeWidth": 1.5},
   "encoding": {"x": {"field": "x", "type": "quantitative", "axis": null}}},
  {"data": {"name": "curves"},
   "transform": [{"filter": "datum.p === 'S'"}],
   "mark": {"type": "line", "interpolate": "monotone"},
   "encoding": {
    "x": {"field": "x", "type": "quantitative", "scale": {"domain": [0, 1.02], "nice": false, "zero": false},
      "axis": {"orient": "bottom", "offset": 30, "values": [0,0.2,0.4,0.6,0.8,1], "format": ".1f", "tickSize": 5, "labelPadding": 4, "title": null}},
    "y": {"field": "y", "type": "quantitative", "scale": {"domain": [-1, 1], "nice": false},
      "axis": {"orient": "left", "offset": 0, "values": [-1,-0.8,-0.6,-0.4,-0.2,0,0.2,0.4,0.6,0.8,1], "labels": false, "domain": false, "tickSize": 6, "title": null}},
    "color": {"field": "s", "type": "ordinal", "title": null, "scale": {"domain": ["NL","WL1","WL2","WL3","WL4"], "range": ["#000000","#000000","#000000","#262626","#7f7f7f"]}},
    "strokeDash": {"field": "s", "type": "ordinal", "title": null, "scale": {"domain": ["NL","WL1","WL2","WL3","WL4"], "range": [[1,0],[7,3],[3,2],[1.5,1.5],[1,1]]}},
    "strokeWidth": {"field": "s", "type": "ordinal", "title": null, "scale": {"domain": ["NL","WL1","WL2","WL3","WL4"], "range": [2.6, 1]}}
   }}
 ]
}
],
"config": {
 "view": {"stroke": "#868686", "strokeWidth": 1},
 "axis": {"grid": false, "domainColor": "#868686", "tickColor": "#868686", "labelFont": "Liberation Sans", "labelFontSize": 14, "labelColor": "#404040", "titleFont": "Liberation Serif", "titleFontSize": 18, "titleFontWeight": "bold", "titleColor": "#000000"},
 "legend": {"orient": "top-right", "offset": 4, "columns": 3, "direction": "horizontal", "symbolType": "stroke", "symbolSize": 450, "labelFont": "Liberation Sans", "labelFontSize": 15, "labelColor": "#222222", "labelOffset": 2, "columnPadding": 11, "rowPadding": 7, "padding": 0}
}
}
